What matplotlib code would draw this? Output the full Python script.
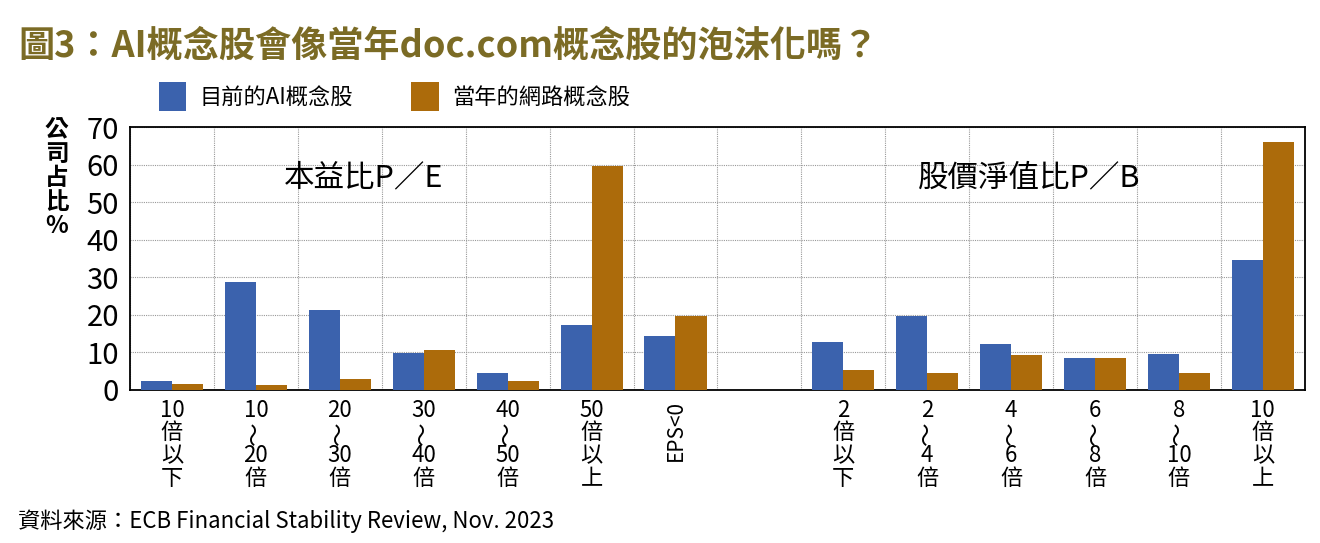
import matplotlib
matplotlib.use("Agg")
import matplotlib.pyplot as plt
import numpy as np

plt.rcParams['font.family'] = ['Noto Sans CJK TC', 'DejaVu Sans']

# category labels (stacked vertically like the original)
pe_labels = ["10\n倍\n以\n下", "10\n～\n20\n倍", "20\n～\n30\n倍", "30\n～\n40\n倍",
             "40\n～\n50\n倍", "50\n倍\n以\n上", "EPS<0"]
pb_labels = ["2\n倍\n以\n下", "2\n～\n4\n倍", "4\n～\n6\n倍", "6\n～\n8\n倍",
             "8\n～\n10\n倍", "10\n倍\n以\n上"]

# values (% of companies)
pe_ai = [2.3, 28.7, 21.2, 9.9, 4.5, 17.2, 14.3]
pe_dotcom = [1.6, 1.3, 2.9, 10.6, 2.3, 59.6, 19.8]
pb_ai = [12.9, 19.7, 12.2, 8.6, 9.7, 34.6]
pb_dotcom = [5.4, 4.5, 9.3, 8.6, 4.5, 66.0]

series_names = ["目前的AI概念股", "當年的網路概念股"]
ylabel = "公司占比%"
blue = "#3B62AD"
orange = "#AC6B0B"

# positions: P/E groups, one empty slot, then P/B groups
pe_x = np.arange(len(pe_labels))
pb_x = np.arange(len(pb_labels)) + len(pe_labels) + 1
x = np.concatenate([pe_x, pb_x])
ai = pe_ai + pb_ai
dotcom = pe_dotcom + pb_dotcom
labels = pe_labels + pb_labels

fig = plt.figure(figsize=(13.2, 5.43), dpi=100)
ax = fig.add_axes([0.0985, 0.2818, 0.890, 0.4842])

w = 0.37
ax.bar(x - w / 2, ai, w, color=blue, label=series_names[0], zorder=3)
ax.bar(x + w / 2, dotcom, w, color=orange, label=series_names[1], zorder=3)

ax.set_xlim(-0.45, 13.43)
ax.set_ylim(0, 70)
ax.set_yticks(range(0, 71, 10))
ax.tick_params(axis='y', length=0, labelsize=21, pad=8)
ax.set_xticks(np.arange(-0.5, 14, 1), minor=True)
ax.set_xticks(x)
ax.set_xticklabels([])
ax.tick_params(axis='x', which='both', length=0)
ax.grid(axis='y', color='#999999', linestyle=(0, (1, 1)), linewidth=0.8, zorder=0)
ax.grid(axis='x', which='minor', color='#999999', linestyle=(0, (1, 1)), linewidth=0.8, zorder=0)
for s in ax.spines.values():
    s.set_color('black')
    s.set_linewidth(1.3)

# stacked category labels under the axis, one row at a time
for xi, lab in zip(x, labels):
    if lab == "EPS<0":
        ax.annotate(lab, xy=(xi, 0), xycoords=('data', 'axes fraction'),
                    xytext=(0, -7), textcoords='offset points', rotation=90,
                    ha='center', va='top', fontsize=15, annotation_clip=False)
        continue
    for i, row in enumerate(lab.split("\n")):
        tilde = row == "～"
        ax.annotate(row, xy=(xi, 0), xycoords=('data', 'axes fraction'),
                    xytext=(0, -14.5 - i * 16.4), textcoords='offset points',
                    rotation=90 if tilde else 0,
                    ha='center', va='center', fontsize=17 if tilde else 16,
                    annotation_clip=False)

# section labels
ax.text(2.28, 56.5, "本益比P／E", ha='center', va='center', fontsize=22)
ax.text(10.21, 56.5, "股價淨值比P／B", ha='center', va='center', fontsize=22)

# y label, one character per row
for i, ch in enumerate(ylabel):
    fig.text(0.043, 1 - (130 + i * 24) / 543, ch, ha='center', va='center',
             fontsize=17, fontweight='bold')

# legend
leg = fig.legend(loc='upper left', bbox_to_anchor=(0.105, 0.885), ncol=2, frameon=False,
                 fontsize=16, handlelength=1.25, handleheight=1.6, columnspacing=2.6,
                 handletextpad=0.6)

# title and source
fig.text(0.014, 0.915, "圖3：AI概念股會像當年doc.com概念股的泡沫化嗎？", fontsize=26,
         fontweight='bold', color='#7B6B25', va='center', ha='left')
fig.text(0.014, 0.04, "資料來源：ECB Financial Stability Review, Nov. 2023", fontsize=16,
         va='center', ha='left')

fig.savefig("out.png", dpi=100)
